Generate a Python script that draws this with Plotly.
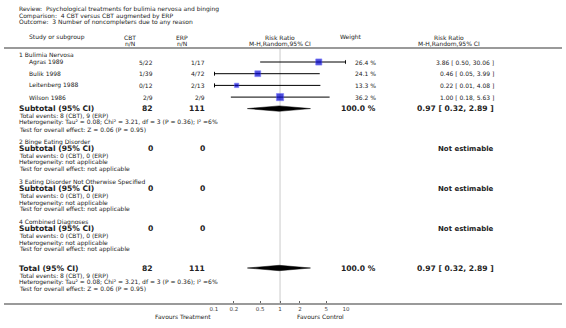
import plotly.graph_objects as go

W, H = 566, 328

# ---------------- data ----------------
review = "Review:\u00a0 Psychological treatments for bulimia nervosa and binging"
comparison = "Comparison:\u00a0 4 CBT versus CBT augmented by ERP"
outcome = "Outcome:\u00a0 3 Number of noncompleters due to any reason"

groups = ["1 Bulimia Nervosa", "2 Binge Eating Disorder",
          "3 Eating Disorder Not Otherwise Specified", "4 Combined Diagnoses"]

studies = ["Agras 1989", "Bulik 1998", "Leitenberg 1988", "Wilson 1986"]
study_group = [0, 0, 0, 0]
cbt_events = [5, 1, 0, 2]
cbt_total = [22, 39, 12, 9]
erp_events = [1, 4, 2, 2]
erp_total = [17, 72, 13, 9]
weights = [26.4, 24.1, 13.3, 36.2]
rr = [3.86, 0.46, 0.22, 1.00]
rr_lo = [0.50, 0.05, 0.01, 0.18]
rr_hi = [30.06, 3.99, 4.08, 5.63]

sub_cbt_n = [82, 0, 0, 0]
sub_erp_n = [111, 0, 0, 0]
sub_cbt_ev = [8, 0, 0, 0]
sub_erp_ev = [9, 0, 0, 0]
sub_weight = [100.0, None, None, None]
sub_rr = [0.97, None, None, None]
sub_lo = [0.32, None, None, None]
sub_hi = [2.89, None, None, None]
sub_het = ["Heterogeneity: Tau\u00b2 = 0.08; Chi\u00b2 = 3.21, df = 3 (P = 0.36); I\u00b2 =6%",
           "Heterogeneity: not applicable", "Heterogeneity: not applicable",
           "Heterogeneity: not applicable"]
sub_test = ["Test for overall effect: Z = 0.06 (P = 0.95)",
            "Test for overall effect: not applicable",
            "Test for overall effect: not applicable",
            "Test for overall effect: not applicable"]

tot_cbt_n, tot_erp_n = 82, 111
tot_cbt_ev, tot_erp_ev = 8, 9
tot_weight = 100.0
tot_rr, tot_lo, tot_hi = 0.97, 0.32, 2.89
tot_het = "Heterogeneity: Tau\u00b2 = 0.08; Chi\u00b2 = 3.21, df = 3 (P = 0.36); I\u00b2 =6%"
tot_test = "Test for overall effect: Z = 0.06 (P = 0.95)"

tick_vals = [0.1, 0.2, 0.5, 1, 2, 5, 10]
tick_text = ["0.1", "0.2", "0.5", "1", "2", "5", "10"]
left_label = "Favours Treatment"
right_label = "Favours Control"

# ---------------- layout constants (pixels) ----------------
FONT = "DejaVu Sans"
TXT = "#222222"
FS = 6.0       # normal text
FSB = 7.6      # bold rows
X_LEFT = 13
X_STUDY = 23
X_CBT_H = 128  # header centre
X_ERP_H = 181
X_CBT = 153    # value right edge
X_ERP = 206
X_W_H = 352
X_W = 379
X_RR_H = 451
X_RR = 499
X_PLOT0, X_PLOT1 = 213, 347
Y_AXIS = 304
Y_HLINE = 48

ann = []


def txt(s, x, y, anchor="left", size=FS, bold=False, color=TXT):
    ann.append(dict(text=("<b>%s</b>" % s) if bold else s, x=x / W, y=y,
                    xref="paper", yref="y", xanchor=anchor, yanchor="middle",
                    showarrow=False, font=dict(family=FONT, size=size, color=color)))


# header
txt(review, X_LEFT, 8.5)
txt(comparison, X_LEFT, 15.5)
txt(outcome, X_LEFT, 22)
txt("Study or subgroup", X_STUDY, 37)
txt("CBT", X_CBT_H, 37, "center")
txt("n/N", X_CBT_H, 43, "center")
txt("ERP", X_ERP_H, 37, "center")
txt("n/N", X_ERP_H, 43, "center")
txt("Risk Ratio", 280, 37, "center")
txt("M-H,Random,95% CI", 280, 43, "center")
txt("Weight", X_W_H, 37, "center")
txt("Risk Ratio", X_RR_H, 37, "center")
txt("M-H,Random,95% CI", X_RR_H, 43, "center")

fig = go.Figure()

STEP = 11.7
DET = 6.7
y = 54.0
study_y = {}
sub_y = []
for g, gname in enumerate(groups):
    txt(gname, X_LEFT, y)
    idx = [i for i, sg in enumerate(study_group) if sg == g]
    if idx:
        yy = y + 8
        for k, i in enumerate(idx):
            study_y[i] = yy
            yy += STEP
        ys = yy - STEP + 11.5
    else:
        ys = y + 7
    sub_y.append(ys)
    txt("Subtotal (95% CI)", X_LEFT, ys, size=FSB, bold=True)
    txt(str(sub_cbt_n[g]), X_CBT, ys, "right", FSB, True)
    txt(str(sub_erp_n[g]), X_ERP, ys, "right", FSB, True)
    if sub_rr[g] is not None:
        txt("%.1f %%" % sub_weight[g], X_W, ys, "right", FSB, True)
        txt("%.2f [ %.2f, %.2f ]" % (sub_rr[g], sub_lo[g], sub_hi[g]), X_RR, ys, "right", FSB, True)
    else:
        txt("Not estimable", X_RR, ys, "right", FSB - 0.6, True)
    txt("Total events: %d (CBT), %d (ERP)" % (sub_cbt_ev[g], sub_erp_ev[g]), X_LEFT, ys + DET + 0.3)
    txt(sub_het[g], X_LEFT, ys + 2 * DET + 0.3)
    txt(sub_test[g], X_LEFT, ys + 3 * DET + 0.3)
    y = ys + 3 * DET + 13

# studies text
for i, s in enumerate(studies):
    yy = study_y[i]
    txt(s, X_STUDY, yy)
    txt("%d/%d" % (cbt_events[i], cbt_total[i]), X_CBT, yy, "right")
    txt("%d/%d" % (erp_events[i], erp_total[i]), X_ERP, yy, "right")
    txt("%.1f %%" % weights[i], X_W, yy, "right")
    txt("%.2f [ %.2f, %.2f ]" % (rr[i], rr_lo[i], rr_hi[i]), X_RR, yy, "right")

# total
y_tot = y - 13 + 19
txt("Total (95% CI)", X_LEFT, y_tot, size=FSB, bold=True)
txt(str(tot_cbt_n), X_CBT, y_tot, "right", FSB, True)
txt(str(tot_erp_n), X_ERP, y_tot, "right", FSB, True)
txt("%.1f %%" % tot_weight, X_W, y_tot, "right", FSB, True)
txt("%.2f [ %.2f, %.2f ]" % (tot_rr, tot_lo, tot_hi), X_RR, y_tot, "right", FSB, True)
txt("Total events: %d (CBT), %d (ERP)" % (tot_cbt_ev, tot_erp_ev), X_LEFT, y_tot + DET + 0.3)
txt(tot_het, X_LEFT, y_tot + 2 * DET + 0.3)
txt(tot_test, X_LEFT, y_tot + 3 * DET + 0.3)

txt(left_label, 182, 316, "center")
txt(right_label, 321, 316, "center")

XMIN, XMAX = tick_vals[0], tick_vals[-1]

# CI lines with clip arrows
for i in range(len(studies)):
    yy = study_y[i]
    lo = max(rr_lo[i], XMIN)
    hi = min(rr_hi[i], XMAX)
    fig.add_trace(go.Scatter(x=[lo, hi], y=[yy, yy], mode="lines",
                             line=dict(color="#000000", width=1), hoverinfo="skip"))
    if rr_lo[i] < XMIN:
        fig.add_trace(go.Scatter(x=[XMIN], y=[yy], mode="markers",
                                 marker=dict(symbol="triangle-left", size=4, color="#000000"),
                                 hoverinfo="skip"))
    if rr_hi[i] > XMAX:
        fig.add_trace(go.Scatter(x=[XMAX], y=[yy], mode="markers",
                                 marker=dict(symbol="triangle-right", size=4, color="#000000"),
                                 hoverinfo="skip"))

# squares
fig.add_trace(go.Scatter(
    x=rr, y=[study_y[i] for i in range(len(studies))], mode="markers",
    marker=dict(symbol="square", color="#0000cc",
                size=[1.2 * w ** 0.5 for w in weights],
                line=dict(color="#4d4dff", width=0.6)),
    hoverinfo="skip"))

# diamonds
DH = 2.7


def diamond(est, lo, hi, yy):
    fig.add_trace(go.Scatter(x=[lo, est, hi, est, lo], y=[yy, yy - DH, yy, yy + DH, yy],
                             mode="lines", fill="toself", fillcolor="#000000",
                             line=dict(color="#000000", width=0.5), hoverinfo="skip"))


for g in range(len(groups)):
    if sub_rr[g] is not None:
        diamond(sub_rr[g], sub_lo[g], sub_hi[g], sub_y[g])
diamond(tot_rr, tot_lo, tot_hi, y_tot)

shapes = [
    dict(type="line", xref="x", yref="y", x0=1, x1=1, y0=Y_HLINE, y1=Y_AXIS,
         line=dict(color="#dcdcdc", width=1.5), layer="below"),
    dict(type="line", xref="paper", yref="y", x0=0, x1=1, y0=Y_HLINE, y1=Y_HLINE,
         line=dict(color="#9a9a9a", width=2)),
    dict(type="line", xref="paper", yref="y", x0=0, x1=1, y0=Y_AXIS, y1=Y_AXIS,
         line=dict(color="#9a9a9a", width=2)),
]

fig.update_layout(
    width=W, height=H, margin=dict(l=0, r=0, t=0, b=0),
    paper_bgcolor="white", plot_bgcolor="rgba(0,0,0,0)",
    showlegend=False, annotations=ann, shapes=shapes,
    xaxis=dict(type="log", range=[-1, 1], domain=[X_PLOT0 / W, X_PLOT1 / W],
               anchor="free", position=(H - Y_AXIS) / H,
               tickvals=tick_vals, ticktext=tick_text, ticks="inside", ticklen=3,
               tickcolor="#666666", showline=False, showgrid=False, zeroline=False,
               tickfont=dict(family=FONT, size=5.5, color="#444444"), fixedrange=True),
    yaxis=dict(range=[H, 0], domain=[0, 1], visible=False, fixedrange=True),
)

fig.write_html(
    "out.html",
    config={"displayModeBar": False, "staticPlot": True},
    post_script=("document.documentElement.style.margin='0';"
                 "document.documentElement.style.overflow='hidden';"
                 "document.body.style.margin='0';document.body.style.padding='0';"
                 "document.body.style.overflow='hidden';"))
